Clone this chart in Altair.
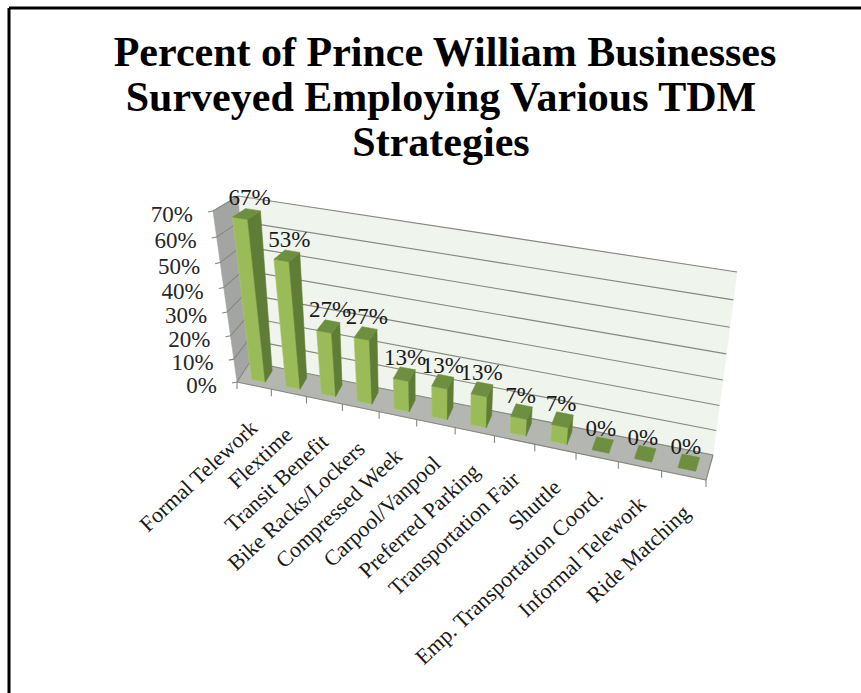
import altair as alt
import pandas as pd

# Survey results, in percent
categories = ["Formal Telework", "Flextime", "Transit Benefit", "Bike Racks/Lockers",
              "Compressed Week", "Carpool/Vanpool", "Preferred  Parking", "Transportation Fair",
              "Shuttle", "Emp. Transportation Coord.", "Informal Telework", "Ride Matching"]
values = [67, 53, 27, 27, 13, 13, 13, 7, 7, 0, 0, 0]
axis_ticks = [0, 10, 20, 30, 40, 50, 60, 70]
title_lines = ["Percent of Prince William Businesses", "Surveyed Employing Various TDM", "Strategies"]
title_centres = [445, 441, 441]

# Corners of the 3-D box on the page: (along, depth, height)
BOX = {
    (0, 0, 0): (237, 382), (1, 0, 0): (706, 480),
    (0, 1, 0): (250, 362), (1, 1, 0): (713, 455),
    (0, 0, 1): (213, 211), (1, 0, 1): (735, 295),
    (0, 1, 1): (238, 196), (1, 1, 1): (737, 272),
}
GREEN_FRONT, GREEN_SIDE, GREEN_TOP = "#9bbb59", "#5f7d36", "#6f8f40"


def warp(s, r):
    return s / (r - (r - 1) * s)


def project(a, d, h):
    """Perspective-ish projection of box coordinates to the drawing plane."""
    u, w = warp(a, 1.15), warp(h, 1.08)
    x = y = 0.0
    for (i, j, k), (px, py) in BOX.items():
        f = (u if i else 1 - u) * (d if j else 1 - d) * (w if k else 1 - w)
        x += f * px
        y += f * py
    return x, y


def polygon_rows(name, pts, fill, stroke=None):
    """Describe a convex polygon as area-mark rows with a top and bottom edge per x."""
    xs = sorted({round(p[0], 3) for p in pts})
    rows = []
    n = len(pts)
    for x in xs:
        ys = []
        for i in range(n):
            (x0, y0), (x1, y1) = pts[i], pts[(i + 1) % n]
            lo, hi = min(x0, x1), max(x0, x1)
            if lo - 0.002 <= x <= hi + 0.002:
                if abs(x1 - x0) < 1e-6:
                    ys += [y0, y1]
                else:
                    ys.append(y0 + (y1 - y0) * (x - x0) / (x1 - x0))
        rows.append({"poly": name, "x": x, "y": min(ys), "y2": max(ys), "fill": fill, "stroke": stroke or fill})
    return rows


x_scale = alt.Scale(domain=[0, 861], range=[0, 861], nice=False, zero=False)
y_scale = alt.Scale(domain=[0, 693], range=[0, 693], nice=False, zero=False)
X = alt.X("x:Q", scale=x_scale, axis=None)
Y = alt.Y("y:Q", scale=y_scale, axis=None)


def area_layer(rows):
    return alt.Chart(pd.DataFrame(rows)).mark_area(strokeWidth=0.6).encode(
        x=X, y=Y, y2="y2:Q", detail="poly:N",
        fill=alt.Fill("fill:N", scale=None), stroke=alt.Stroke("stroke:N", scale=None),
    )


# Walls and floor
shell = []
shell += polygon_rows("back", [project(*c) for c in [(0, 1, 0), (1, 1, 0), (1, 1, 1), (0, 1, 1)]], "#eff4ec")
shell += polygon_rows("left", [project(*c) for c in [(0, 0, 0), (0, 1, 0), (0, 1, 1), (0, 0, 1)]], "#a3a5a2")
shell += polygon_rows("floor", [project(*c) for c in [(0, 0, 0), (1, 0, 0), (1, 1, 0), (0, 1, 0)]], "#b4b6b1")

# Gridlines run along the back wall and across the left wall
grid = []
for t in axis_ticks:
    h = t / axis_ticks[-1]
    x0, y0 = project(0, 0, h)
    x1, y1 = project(0, 1, h)
    x2, y2 = project(1, 1, h)
    grid += [
        {"id": f"g{t}", "o": 0, "x": x0 - 5, "y": y0 + 1},
        {"id": f"g{t}", "o": 1, "x": x0, "y": y0},
        {"id": f"g{t}", "o": 2, "x": x1, "y": y1},
        {"id": f"g{t}", "o": 3, "x": x2, "y": y2},
    ]
for i in range(len(categories) + 1):
    x0, y0 = project(i / len(categories), 0, 0)
    grid += [
        {"id": f"c{i}", "o": 0, "x": x0, "y": y0},
        {"id": f"c{i}", "o": 1, "x": x0, "y": y0 + 7},
    ]
x0, y0 = project(0, 0, 0)
x1, y1 = project(1, 0, 0)
grid += [{"id": "front", "o": 0, "x": x0, "y": y0}, {"id": "front", "o": 1, "x": x1, "y": y1}]
x0, y0 = project(1, 0, 0)
x1, y1 = project(1, 1, 0)
grid += [{"id": "edge", "o": 0, "x": x0, "y": y0}, {"id": "edge", "o": 1, "x": x1, "y": y1}]
grid_layer = alt.Chart(pd.DataFrame(grid)).mark_line(color="#85877f", strokeWidth=1.1).encode(
    x=X, y=Y, detail="id:N", order="o:Q")

# Bars: front, side and top faces, with value labels above
n = len(categories)
D0, D1 = 0.25, 0.8
bars, labels, names = [], [], []
for i, (cat, v) in enumerate(zip(categories, values)):
    a0, a1 = (i + 0.33) / n, (i + 0.73) / n
    h = v / axis_ticks[-1]
    if v > 0:
        bars += polygon_rows(f"f{i}", [project(*c) for c in [(a0, D0, 0), (a1, D0, 0), (a1, D0, h), (a0, D0, h)]],
                             GREEN_FRONT, "#a8c96c")
        bars += polygon_rows(f"s{i}", [project(*c) for c in [(a1, D0, 0), (a1, D1, 0), (a1, D1, h), (a1, D0, h)]],
                             GREEN_SIDE)
    bars += polygon_rows(f"t{i}", [project(*c) for c in [(a0, D0, h), (a1, D0, h), (a1, D1, h), (a0, D1, h)]],
                         GREEN_TOP)
    cx, cy = project((a0 + a1) / 2, (D0 + D1) / 2, h)
    frac = i / (n - 1)
    labels.append({"x": cx + 3 - 6 * frac, "y": cy - 16, "text": f"{v}%"})
    nx, ny = project((i + 0.5) / n, 0, 0)
    names.append({"x": nx + 3 * frac, "y": ny + 39 - 5 * frac, "text": cat})

axis_labels = []
for t in axis_ticks:
    x0, y0 = project(0, 0, t / axis_ticks[-1])
    axis_labels.append({"x": x0 - 20, "y": y0 + 4, "text": f"{t}%"})

FONT = "Liberation Serif"
value_text = alt.Chart(pd.DataFrame(labels)).mark_text(font=FONT, fontSize=23, color="#1a1a1a").encode(
    x=X, y=Y, text="text:N")
axis_text = alt.Chart(pd.DataFrame(axis_labels)).mark_text(font=FONT, fontSize=23, color="#262626", align="right").encode(
    x=X, y=Y, text="text:N")
name_text = alt.Chart(pd.DataFrame(names)).mark_text(font=FONT, fontSize=22, color="#1a1a1a", align="right", angle=317).encode(
    x=X, y=Y, text="text:N")
title_text = alt.Chart(pd.DataFrame([
    {"x": c, "y": 66 + 45 * i, "text": line} for i, (line, c) in enumerate(zip(title_lines, title_centres))
])).mark_text(font=FONT, fontSize=42, fontWeight="bold", color="#000000", baseline="alphabetic").encode(
    x=X, y=Y, text="text:N")

# Slide frame: heavy black lines along the top and left
frame = alt.Chart(pd.DataFrame([
    {"x": 9, "y": 8, "x2": 861, "y2": 8},
    {"x": 9, "y": 8, "x2": 9, "y2": 693},
])).mark_rule(color="#000000", strokeWidth=3).encode(x=X, y=Y, x2="x2:Q", y2="y2:Q")

chart = alt.layer(
    frame, area_layer(shell), grid_layer, area_layer(bars),
    value_text, axis_text, name_text, title_text,
).properties(
    width=861, height=693, padding=0, autosize=alt.AutoSizeParams(type="none"), background="#ffffff",
).configure_view(stroke=None)

chart.save("out.html", embed_options={"renderer": "svg", "actions": False})
